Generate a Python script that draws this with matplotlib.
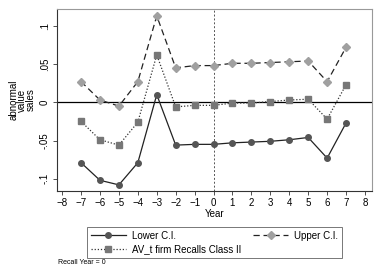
import matplotlib.pyplot as plt
import numpy as np

plt.rcParams['font.family'] = ['Liberation Sans', 'DejaVu Sans']

# --- data ---
years = [-7, -6, -5, -4, -3, -2, -1, 0, 1, 2, 3, 4, 5, 6, 7]
lower_ci = [-0.079, -0.102, -0.108, -0.079, 0.010, -0.056, -0.055, -0.055,
            -0.053, -0.052, -0.051, -0.049, -0.046, -0.073, -0.027]
av_t = [-0.025, -0.049, -0.056, -0.026, 0.062, -0.006, -0.004, -0.004,
        -0.001, -0.001, 0.001, 0.003, 0.004, -0.022, 0.023]
upper_ci = [0.027, 0.003, -0.005, 0.027, 0.113, 0.045, 0.048, 0.048,
            0.051, 0.051, 0.052, 0.053, 0.054, 0.027, 0.072]
y_ticks = [-0.1, -0.05, 0, 0.05, 0.1]
y_ticklabels = ['-.1', '-.05', '0', '.05', '.1']
x_ticks = list(range(-8, 9))

fig = plt.figure(figsize=(3.82, 2.78), dpi=100)
ax = fig.add_axes([57 / 382, 1 - 191 / 278, 315 / 382, 182 / 278])

ax.axhline(0, color='black', lw=0.9, zorder=1)
ax.axvline(0, color='#555555', lw=0.7, ls=(0, (2, 2)), zorder=1)

l1, = ax.plot(years, lower_ci, color='#222222', lw=0.9, ls='-',
              marker='o', ms=4, mfc='#555555', mec='#555555', label='Lower C.I.')
l2, = ax.plot(years, av_t, color='#333333', lw=0.9, ls=(0, (1, 1.5)),
              marker='s', ms=4, mfc='#777777', mec='#777777',
              label='AV_t firm Recalls Class II')
l3, = ax.plot(years, upper_ci, color='#222222', lw=0.9, ls=(0, (5, 3)),
              marker='D', ms=3.6, mfc='#a0a0a0', mec='#a0a0a0', label='Upper C.I.')

ax.set_xlim(-8.27, 8.37)
ax.set_ylim(-0.116, 0.122)
ax.set_xticks(x_ticks)
ax.set_yticks(y_ticks)
ax.set_yticklabels(y_ticklabels, rotation=90, va='center')
ax.tick_params(labelsize=7, length=3, width=0.6, color='#333333', pad=2)
for s in ax.spines.values():
    s.set_color('#999999')
    s.set_linewidth(0.8)
ax.spines['left'].set_color('#333333')
ax.spines['bottom'].set_color('#333333')

ax.set_xlabel('Year', fontsize=7, labelpad=1)
ax.set_ylabel('abnormal\nvalue\nsales', fontsize=7, labelpad=3, linespacing=0.85)

leg = fig.legend(handles=[l1, l2, l3], ncol=2, loc='upper left',
                 bbox_to_anchor=(82 / 382, 1 - 222 / 278, 265 / 382, 0.0),
                 mode='expand', fontsize=7,
                 frameon=True, fancybox=False, edgecolor='#555555',
                 handlelength=3.6, handletextpad=0.6, borderpad=0.4,
                 labelspacing=0.35)
leg.get_frame().set_linewidth(0.7)

fig.text(58 / 382, 1 - 262 / 278, 'Recall Year = 0', fontsize=5, va='center')

fig.savefig('out.png', dpi=100)
